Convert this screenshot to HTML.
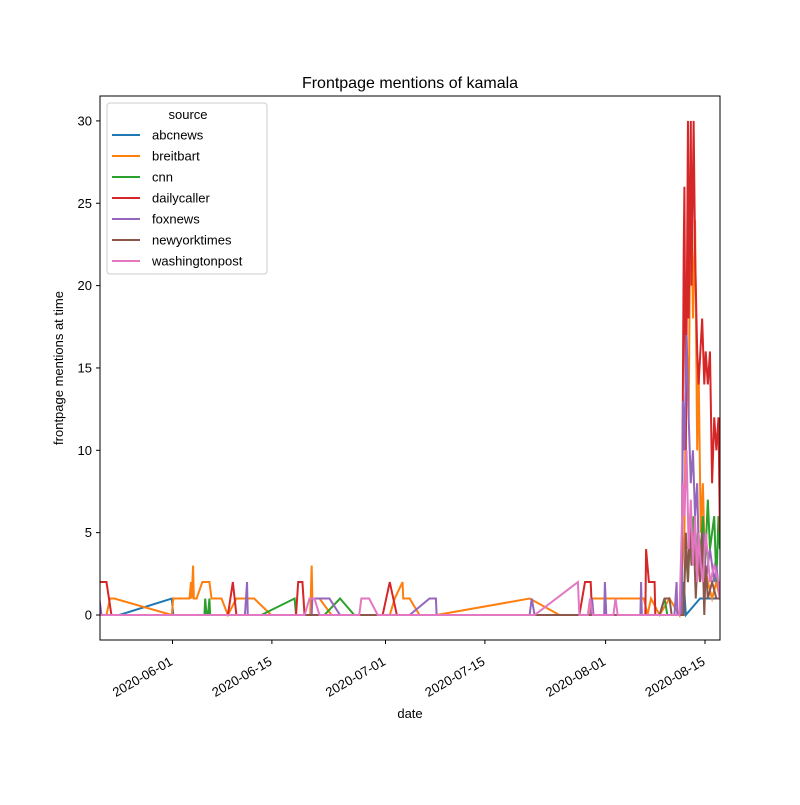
<!DOCTYPE html>
<html><head><meta charset="utf-8"><style>body{margin:0;background:#fff}svg{font-family:"Liberation Sans","DejaVu Sans",sans-serif}</style></head>
<body>
<svg id="chart" width="800" height="800">
<defs><clipPath id="clip"><rect x="100" y="96" width="620" height="544"/></clipPath></defs>
<rect x="0" y="0" width="800" height="800" fill="#fff"/>
<text x="410" y="88" text-anchor="middle" font-size="16">Frontpage mentions of kamala</text>
<g id="series" clip-path="url(#clip)"></g>
<rect x="100" y="96" width="620" height="544" fill="none" stroke="#000" stroke-width="1"/>
<g id="axes"></g>
<text x="410" y="718" text-anchor="middle" font-size="13">date</text>
<text transform="translate(63,368) rotate(-90)" text-anchor="middle" font-size="13">frontpage mentions at time</text>
<g id="legend"></g>
</svg>
<script>
// days since 2020-06-01
const seriesNames = ["abcnews","breitbart","cnn","dailycaller","foxnews","newyorktimes","washingtonpost"];
const colors = ["#1f77b4","#ff7f0e","#2ca02c","#d62728","#9467bd","#8c564b","#e377c2"];
const abcDays = [-10.3,-7.5,-0.1,0.1,71.4,72,72.3,74.3,77.1];
const abcVals = [0,0,1,0,0,2,0,1,1];
const breitbartDays = [-10.3,-9.3,-8.8,-8.2,-0.1,0.1,2.4,2.6,2.7,2.9,3.0,3.4,4.2,5.2,5.5,6.9,7.8,9.0,11.5,13.9,19.4,19.6,19.7,20.7,22.4,30.6,31.3,32.4,32.5,33.4,34.8,37.2,50.3,54.5,58.8,59.1,66.4,66.9,67.4,68.6,70,71.4,72.1,72.4,72.7,73,73.3,73.6,73.9,74.1,74.4,74.7,75,75.4,76,76.6,77.1];
const breitbartVals = [0,0,1,1,0,1,1,2,1,3,1,1,2,2,1,1,0,1,1,0,0,3,1,1,0,0,1,2,1,1,0,0,1,0,0,1,1,0,1,0,1,0,5,17,12,28,18,24,10,15,5,8,3,2,1,2,1];
const cnnDays = [-10.3,4.5,4.6,4.8,5.0,5.2,5.3,12.5,17.2,17.4,21.4,23.6,25.6,68.6,69.3,69.7,71.9,72.3,72.6,72.9,73.1,73.4,73.7,74,74.4,74.7,75,75.4,75.7,76.3,76.6,76.9,77.1];
const cnnVals = [0,0,1,0,0,1,0,0,1,0,0,1,0,0,1,0,0,4,2,5,3,6,3,5,4,6,3,7,4,6,2,6,4];
const dailycallerDays = [-10.3,-9.3,-8.6,7.8,8.5,9.0,17.4,17.7,18.3,18.6,29.6,30.6,31.6,57.3,58.1,58.9,59.1,66.6,66.7,67.1,67.9,68,71.7,72,72.1,72.3,72.6,72.7,73,73.1,73.4,73.6,73.9,74.1,74.6,74.9,75.1,75.4,75.7,76,76.3,76.6,76.9,77.1];
const dailycallerVals = [2,2,0,0,2,0,0,2,2,0,0,2,0,0,2,2,0,0,4,2,2,0,0,22,26,10,30,18,30,20,30,22,16,14,18,14,16,14,16,8,12,10,12,5];
const foxnewsDays = [-10.3,-10,10.2,10.5,10.6,19.6,19.7,22.1,23.6,33.4,36.2,37.1,37.2,50.3,50.6,51,58.9,59.1,59.3,60.8,60.9,61.1,65.9,66,66.1,70.7,71,71.1,71.7,71.9,72.1,72.4,72.7,73,73.3,73.6,73.9,74.1,74.4,74.7,75.1,75.7,76.3,76.6,77.1];
const foxnewsVals = [1,0,0,2,0,0,1,1,0,0,1,1,0,0,1,0,0,1,0,0,2,0,0,2,0,0,2,0,0,13,10,17,12,8,10,6,8,4,3,5,2,4,2,3,1];
const nytDays = [-10.3,68.6,69.3,70,70.3,72,72.3,72.6,72.9,73.1,73.4,73.7,74,74.3,74.6,74.9,75.1,75.4,76,76.6,77.1];
const nytVals = [0,0,1,1,0,0,5,2,6,3,5,1,4,2,5,0,3,1,2,1,1];
const wapoDays = [-10.3,18.6,19.3,20,20.7,26.3,26.6,27.7,28.9,51,57.1,57.3,58.5,58.8,59.2,62.1,62.4,62.7,71.4,71.9,72.1,72.4,72.7,73,73.3,73.6,73.9,74.1,74.4,74.7,75.1,75.7,76.3,76.9,77.1];
const wapoVals = [0,0,1,1,0,0,1,1,0,0,2,0,0,1,0,0,1,0,0,8,6,10,4,7,3,6,2,5,3,2,5,2,3,2,1];
const yTicks = [0,5,10,15,20,25,30];
const xTickDays = [0,14,30,44,61,75];
const xTickLabels = ["2020-06-01","2020-06-15","2020-07-01","2020-07-15","2020-08-01","2020-08-15"];

const NS="http://www.w3.org/2000/svg";
const xS = d => 172.5 + 7.1*d;
const yS = v => 615 - v*16.47;
const allDays=[abcDays,breitbartDays,cnnDays,dailycallerDays,foxnewsDays,nytDays,wapoDays];
const allVals=[abcVals,breitbartVals,cnnVals,dailycallerVals,foxnewsVals,nytVals,wapoVals];
const g=document.getElementById('series');
allDays.forEach((ds,i)=>{
  const p=document.createElementNS(NS,'polyline');
  p.setAttribute('points',ds.map((d,j)=>xS(d)+','+yS(allVals[i][j])).join(' '));
  p.setAttribute('fill','none');p.setAttribute('stroke',colors[i]);p.setAttribute('stroke-width','2');
  
  
  g.appendChild(p);
});
const ax=document.getElementById('axes');
yTicks.forEach(t=>{
  const y=yS(t);
  const l=document.createElementNS(NS,'line');
  l.setAttribute('x1',96);l.setAttribute('x2',100);l.setAttribute('y1',y);l.setAttribute('y2',y);l.setAttribute('stroke','#000');
  
  
  ax.appendChild(l);
  const tx=document.createElementNS(NS,'text');
  tx.setAttribute('x',92);tx.setAttribute('y',y+4.5);tx.setAttribute('text-anchor','end');tx.setAttribute('font-size','13');
  tx.textContent=t;
  
  
  ax.appendChild(tx);
});
xTickDays.forEach((d,i)=>{
  const x=xS(d);
  const l=document.createElementNS(NS,'line');
  l.setAttribute('x1',x);l.setAttribute('x2',x);l.setAttribute('y1',640);l.setAttribute('y2',644);l.setAttribute('stroke','#000');
  
  
  ax.appendChild(l);
  const tx=document.createElementNS(NS,'text');
  tx.setAttribute('transform','translate('+(x+1)+',664) rotate(-30)');
  tx.setAttribute('text-anchor','end');tx.setAttribute('font-size','13');
  tx.textContent=xTickLabels[i];
  
  
  ax.appendChild(tx);
});
const lg=document.getElementById('legend');
const box=document.createElementNS(NS,'rect');
box.setAttribute('x',107);box.setAttribute('y',103);box.setAttribute('width',160);box.setAttribute('height',171);box.setAttribute('rx',3);
box.setAttribute('fill','#fff');box.setAttribute('fill-opacity','0.8');box.setAttribute('stroke','#ccc');


lg.appendChild(box);
const lt=document.createElementNS(NS,'text');
lt.setAttribute('x',188);lt.setAttribute('y',119);lt.setAttribute('text-anchor','middle');lt.setAttribute('font-size','13');lt.textContent='source';


lg.appendChild(lt);
seriesNames.forEach((n,i)=>{
  const y=135+i*21;
  const l=document.createElementNS(NS,'line');
  l.setAttribute('x1',112);l.setAttribute('x2',140);l.setAttribute('y1',y);l.setAttribute('y2',y);l.setAttribute('stroke',colors[i]);l.setAttribute('stroke-width',2);
  
  
  lg.appendChild(l);
  const t=document.createElementNS(NS,'text');
  t.setAttribute('x',152);t.setAttribute('y',y+4.5);t.setAttribute('font-size','13');t.textContent=n;
  
  
  lg.appendChild(t);
});
</script>
</body></html>
